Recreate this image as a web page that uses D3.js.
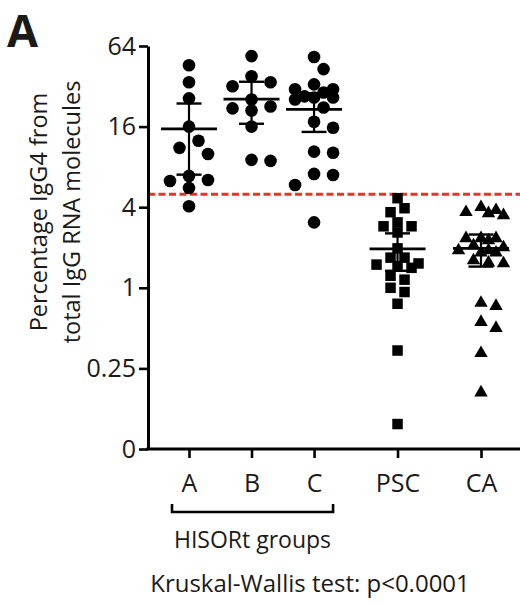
<!DOCTYPE html>
<html>
<head>
<meta charset="utf-8">
<script src="https://cdn.jsdelivr.net/npm/d3@7"></script>
<style>
  html, body { margin: 0; padding: 0; background: #fff; }
  svg { display: block; }
  text { font-family: "Open Sans", "Noto Sans", sans-serif; fill: #1a1a1a; }
</style>
</head>
<body>
<svg id="chart" width="520" height="606"></svg>
<script>
// ---- data ----
const categories = ["A", "B", "C", "PSC", "CA"];
const groupA = [46, 34.3, 26, 16, 12.55, 11.1, 10.0, 6.85, 6.39, 6.28, 5.56, 4.07];
const groupB = [53.8, 38, 34.3, 32, 25.5, 22.6, 21.9, 21.1, 16, 9.03, 8.88];
const groupC = [52.9, 43.0, 33.1, 30.4, 30.4, 28.8, 26.9, 26.4, 26.4, 25.5, 22.2, 17.4, 15.7, 10.4, 10.2, 7.09, 6.96, 5.86, 3.08];
const groupPSC = [4.67, 3.93, 3.67, 3.08, 2.88, 2.88, 2.59, 1.97, 1.68, 1.68, 1.52, 1.49, 1.45, 1.41, 1.23, 1.15, 1.0, 0.93, 0.76, 0.34, 0.096];
const groupCA = [4.0, 3.8, 3.67, 3.6, 3.48, 2.34, 2.34, 2.34, 2.26, 2.07, 2.0, 1.9, 1.9, 1.83, 1.83, 1.6, 1.54, 1.52, 0.77, 0.73, 0.555, 0.5, 0.325, 0.165];
const means  = [15.4, 25.7, 21.5, 1.95, 1.97];
const ciLow  = [7.0, 16.8, 14.6, 1.34, 1.44];
const ciHigh = [23.8, 34.6, 28.4, 2.55, 2.5];
const threshold = 5;
const yTickValues = [0.0625, 0.25, 1, 4, 16, 64];
const yTickLabels = ["0", "0.25", "1", "4", "16", "64"];
const markers = ["circle", "circle", "circle", "square", "triangle"];
const groups = [groupA, groupB, groupC, groupPSC, groupCA];

// ---- layout ----
const svg = d3.select("#chart");
const axisX0 = 148, axisY0 = 449, plotTop = 46, plotRight = 520;

const y = d3.scaleLog().base(2).domain([0.0625, 64]).range([axisY0, plotTop]);
const unit = i => i < 3 ? i : 2 + (i - 2) * 1.335;
const xLin = d3.scaleLinear().domain([0, unit(4)]).range([189, 481]);
const x = d3.scaleOrdinal().domain(categories).range(categories.map((c, i) => xLin(unit(i))));

// threshold line (behind points)
svg.append("line")
  .attr("x1", axisX0).attr("x2", plotRight)
  .attr("y1", y(threshold)).attr("y2", y(threshold))
  .attr("stroke", "#ea3323").attr("stroke-width", 3)
  .attr("stroke-dasharray", "7,3.5");

// capped beeswarm placement
function swarm(values, step, minDist, maxK) {
  const placed = [];
  const sorted = values.map(v => ({v, py: y(v)})).sort((a, b) => a.py - b.py);
  const offs = [0];
  for (let k = 1; k <= maxK; k++) { offs.push(k * step, -k * step); }
  sorted.forEach(p => {
    let best = null, bestD = -1;
    for (const off of offs) {
      const dmin = placed.length ? d3.min(placed, q => Math.hypot(q.dx - off, q.py - p.py)) : Infinity;
      if (dmin >= minDist) { best = off; break; }
      if (dmin > bestD + 0.5) { bestD = dmin; best = off; }
    }
    p.dx = best;
    placed.push(p);
  });
  return placed;
}

const symType = {circle: d3.symbolCircle, square: d3.symbolSquare, triangle: d3.symbolTriangle};
const symSize = {circle: Math.PI * 6.3 * 6.3, square: 10.5 * 10.5, triangle: 78};
const swarmParams = {circle: [9.5, 15, 2], square: [7, 11, 3], triangle: [7.5, 10, 3]};

groups.forEach((vals, gi) => {
  const cat = categories[gi];
  const m = markers[gi];
  const [st, md, mk] = swarmParams[m];
  const pts = swarm(vals, st, md, mk);
  const g = svg.append("g");
  g.selectAll("path").data(pts).join("path")
    .attr("d", d3.symbol().type(symType[m]).size(symSize[m]))
    .attr("transform", d => `translate(${x(cat) + d.dx},${d.py})`)
    .attr("fill", "#000");

  // mean and 95% CI
  const cx = x(cat);
  const eb = svg.append("g").attr("stroke", "#000").attr("fill", "none");
  eb.append("line").attr("x1", cx - 28).attr("x2", cx + 28)
    .attr("y1", y(means[gi])).attr("y2", y(means[gi])).attr("stroke-width", 2.8);
  eb.append("line").attr("x1", cx).attr("x2", cx)
    .attr("y1", y(ciLow[gi])).attr("y2", y(ciHigh[gi])).attr("stroke-width", 2.2);
  [ciLow[gi], ciHigh[gi]].forEach(v => {
    eb.append("line").attr("x1", cx - 12.5).attr("x2", cx + 12.5)
      .attr("y1", y(v)).attr("y2", y(v)).attr("stroke-width", 2.4);
  });
});

// y axis
const yAxis = d3.axisLeft(y).tickValues(yTickValues)
  .tickFormat((d, i) => yTickLabels[i]).tickSize(9).tickSizeOuter(0).tickPadding(3);
const gy = svg.append("g").attr("transform", `translate(${axisX0},0)`).call(yAxis);
gy.select(".domain").attr("stroke-width", 3).attr("stroke", "#000");
gy.selectAll(".tick line").attr("stroke-width", 2.6).attr("stroke", "#000");
gy.selectAll(".tick text").attr("font-size", 25).attr("font-family", "Open Sans").attr("fill", "#1a1a1a");

// x axis
const xAxis = d3.axisBottom(x).tickSize(9).tickPadding(16);
const gx = svg.append("g").attr("transform", `translate(0,${axisY0})`).call(xAxis);
gx.select(".domain").remove();
gx.append("line").attr("x1", axisX0 - 1.5).attr("x2", plotRight).attr("y1", 0).attr("y2", 0)
  .attr("stroke", "#000").attr("stroke-width", 3);
gx.selectAll(".tick line").attr("stroke-width", 2.6).attr("stroke", "#000");
gx.selectAll(".tick text").attr("font-size", 25).attr("font-family", "Open Sans").attr("fill", "#1a1a1a");

// bracket for HISORt groups
const bx0 = x("A") - 17, bx1 = x("C") + 19, by = 512;
svg.append("path")
  .attr("d", `M${bx0},${by - 8}V${by}H${bx1}V${by - 8}`)
  .attr("fill", "none").attr("stroke", "#000").attr("stroke-width", 2.6);
svg.append("text").attr("x", (bx0 + bx1) / 2).attr("y", 548)
  .attr("text-anchor", "middle").attr("font-size", 23).text("HISORt groups");

// y title
const yt = svg.append("text").attr("text-anchor", "middle").attr("font-size", 23.5)
  .attr("transform", "translate(0,212) rotate(-90)");
yt.append("tspan").attr("x", 0).attr("y", 47).text("Percentage IgG4 from");
yt.append("tspan").attr("x", 0).attr("y", 80).text("total IgG RNA molecules");

// panel letter
svg.append("text").attr("x", 7).attr("y", 47).attr("font-size", 45)
  .attr("font-weight", "bold").attr("font-family", "Liberation Sans, Arial, sans-serif")
  .attr("fill", "#000").text("A");

// footnote
svg.append("text").attr("x", 310).attr("y", 592).attr("text-anchor", "middle")
  .attr("font-size", 24).text("Kruskal-Wallis test: p<0.0001");
</script>
</body>
</html>
